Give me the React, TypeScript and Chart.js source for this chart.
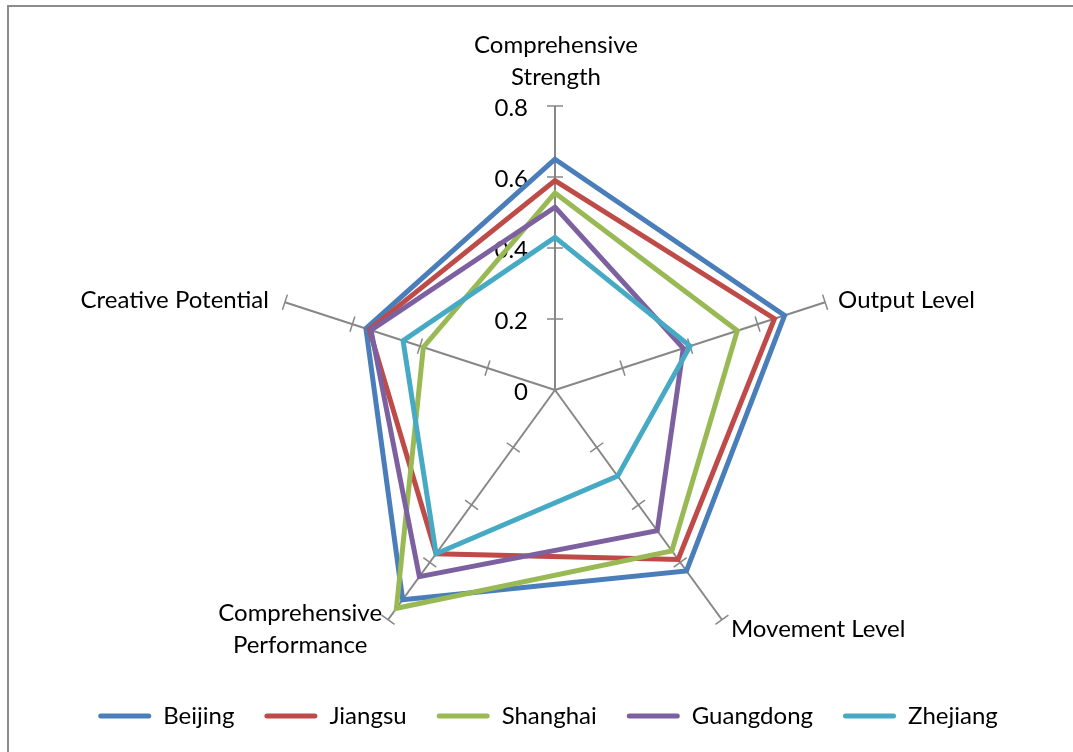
import { useEffect, useRef } from 'react';
import { Chart, registerables } from 'chart.js';

Chart.register(...registerables);

// Axis categories (multi-line labels), one per spoke, clockwise from the top
const categories: string[][] = [
  ['Comprehensive', 'Strength'],
  ['Output Level'],
  ['Movement Level'],
  ['Comprehensive', 'Performance'],
  ['Creative Potential'],
];

const regions = ['Beijing', 'Jiangsu', 'Shanghai', 'Guangdong', 'Zhejiang'];

const beijing = [0.65, 0.68, 0.63, 0.73, 0.56];
const jiangsu = [0.59, 0.65, 0.59, 0.57, 0.55];
const shanghai = [0.555, 0.54, 0.56, 0.76, 0.39];
const guangdong = [0.515, 0.38, 0.49, 0.65, 0.545];
const zhejiang = [0.43, 0.4, 0.3, 0.57, 0.45];

const tickValues = [0, 0.2, 0.4, 0.6, 0.8];
const tickLabels = ['0', '0.2', '0.4', '0.6', '0.8'];

const seriesValues = [beijing, jiangsu, shanghai, guangdong, zhejiang];
const seriesColors = ['#4A7EBB', '#BE4B48', '#98B954', '#7D60A0', '#46AAC5'];

const FONT = 'Lato';
const TEXT_SIZE = 24;
const AXIS_COLOR = '#878787';
const TICK_HALF = 8;
const LEGEND_SHIFT = -7;

// Frame, cross tick marks, value labels and spoke captions drawn around the radar scale
const radarDecor = {
  id: 'radarDecor',
  afterLayout(chart: any) {
    // nudge the legend row slightly left of the radar centre
    if (chart.legend) {
      chart.legend.left += LEGEND_SHIFT;
      chart.legend.right += LEGEND_SHIFT;
    }
  },
  beforeDraw(chart: any) {
    const { ctx, width, height } = chart;
    ctx.save();
    ctx.fillStyle = '#ffffff';
    ctx.fillRect(0, 0, width, height);
    ctx.strokeStyle = '#8c8c8c';
    ctx.lineWidth = 2;
    ctx.beginPath();
    ctx.moveTo(8, height);
    ctx.lineTo(8, 6);
    ctx.lineTo(width, 6);
    ctx.stroke();
    ctx.restore();
  },
  beforeDatasetsDraw(chart: any) {
    const scale = chart.scales.r;
    const ctx = chart.ctx as CanvasRenderingContext2D;
    const n = chart.data.labels.length;
    ctx.save();

    // cross tick marks on every spoke
    ctx.strokeStyle = AXIS_COLOR;
    ctx.lineWidth = 1.5;
    tickValues.forEach((v) => {
      if (v === 0) return;
      for (let i = 0; i < n; i++) {
        const p = scale.getPointPositionForValue(i, v);
        const a = scale.getIndexAngle(i);
        const px = Math.cos(a) * TICK_HALF;
        const py = Math.sin(a) * TICK_HALF;
        ctx.beginPath();
        ctx.moveTo(p.x - px, p.y - py);
        ctx.lineTo(p.x + px, p.y + py);
        ctx.stroke();
      }
    });

    // value labels beside the vertical spoke
    ctx.fillStyle = '#000';
    ctx.font = `${TEXT_SIZE}px ${FONT}`;
    ctx.textAlign = 'right';
    ctx.textBaseline = 'middle';
    tickValues.forEach((v, k) => {
      const p = scale.getPointPositionForValue(0, v);
      ctx.fillText(tickLabels[k], p.x - 27, p.y + 2);
    });

    // spoke captions
    const max = scale.max;
    const lineH = 32;
    categories.forEach((lines, i) => {
      const e = scale.getPointPositionForValue(i, max);
      const widths = lines.map((t) => ctx.measureText(t).width);
      const maxW = Math.max(...widths);
      if (i === 0) {
        ctx.textAlign = 'center';
        lines.forEach((t, j) => {
          ctx.fillText(t, e.x + 1, e.y - 29 - (lines.length - 1 - j) * lineH);
        });
      } else if (i === 1) {
        ctx.textAlign = 'left';
        ctx.fillText(lines[0], e.x + 13, e.y - 2);
      } else if (i === 2) {
        ctx.textAlign = 'left';
        ctx.fillText(lines[0], e.x + 9, e.y + 10);
      } else if (i === 3) {
        ctx.textAlign = 'center';
        const cx = e.x - 6 - maxW / 2;
        lines.forEach((t, j) => {
          ctx.fillText(t, cx, e.y - 6 + j * lineH);
        });
      } else {
        ctx.textAlign = 'right';
        ctx.fillText(lines[0], e.x - 16, e.y - 2);
      }
    });
    ctx.restore();
  },
};

export default function App() {
  const canvasRef = useRef<HTMLCanvasElement>(null);

  useEffect(() => {
    if (!canvasRef.current) return;
    const chart = new Chart(canvasRef.current, {
      type: 'radar',
      data: {
        labels: categories,
        datasets: regions.map((name, i) => ({
          label: name,
          data: seriesValues[i],
          borderColor: seriesColors[i],
          backgroundColor: seriesColors[i],
          borderWidth: 5,
          borderJoinStyle: 'miter' as const,
          pointRadius: 0,
          pointHoverRadius: 0,
          fill: false,
          tension: 0,
          order: regions.length - i,
        })),
      },
      options: {
        animation: false,
        responsive: true,
        maintainAspectRatio: false,
        layout: { padding: { top: 106, left: 37, right: 0, bottom: 14 } },
        scales: {
          r: {
            min: 0,
            max: 0.8,
            ticks: { display: false, stepSize: 0.2 },
            grid: { display: false },
            angleLines: { display: true, color: AXIS_COLOR, lineWidth: 2 },
            pointLabels: { display: false },
          },
        },
        plugins: {
          tooltip: { enabled: false },
          legend: {
            position: 'bottom',
            labels: {
              color: '#000',
              font: { family: FONT, size: TEXT_SIZE },
              boxWidth: 53,
              boxHeight: 5,
              padding: 30,
              useBorderRadius: true,
              borderRadius: 2.5,
              sort: (a: any, b: any) => a.datasetIndex - b.datasetIndex,
              generateLabels: (c: any) =>
                (Chart.defaults.plugins.legend.labels.generateLabels as any)(c).map((it: any) => ({
                  ...it,
                  fillStyle: it.strokeStyle,
                  lineWidth: 0,
                })),
            },
          },
        },
      },
      plugins: [radarDecor],
    });
    return () => chart.destroy();
  }, []);

  return (
    <div style={{ position: 'absolute', left: 0, top: 0, width: 1073, height: 752, background: '#fff' }}>
      <canvas ref={canvasRef} />
    </div>
  );
}
